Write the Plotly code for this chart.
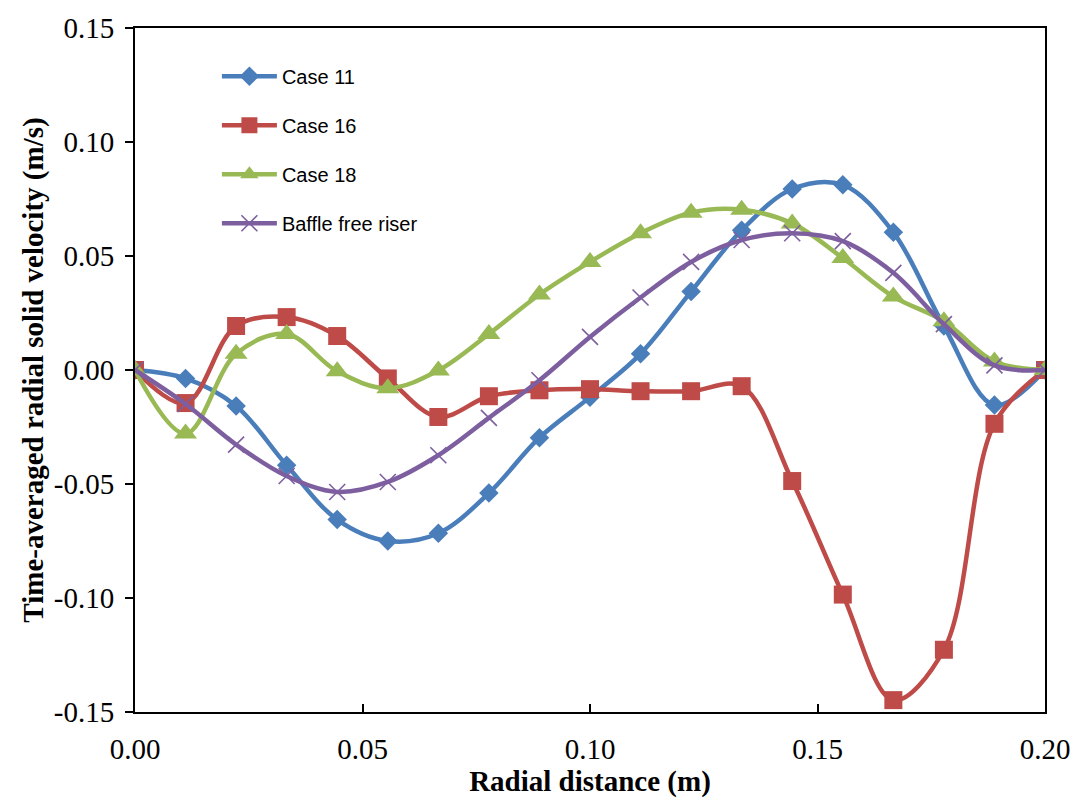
import plotly.graph_objects as go

radial_distance = [0.0, 0.01111, 0.02222, 0.03333, 0.04444, 0.05556, 0.06667, 0.07778,
                   0.08889, 0.1, 0.11111, 0.12222, 0.13333, 0.14444, 0.15556, 0.16667,
                   0.17778, 0.18889, 0.2]

case11 = [0.0, -0.0037, -0.0158, -0.0418, -0.0656, -0.075, -0.0716, -0.054, -0.0297,
          -0.0119, 0.0071, 0.0344, 0.0613, 0.0794, 0.0812, 0.0604, 0.0193, -0.0154, 0.0]
case16 = [0.0, -0.0145, 0.0193, 0.0232, 0.0149, -0.0037, -0.0206, -0.0115, -0.0089,
          -0.0084, -0.0093, -0.0093, -0.0071, -0.0487, -0.0985, -0.1448, -0.1227, -0.0236, 0.0]
case18 = [0.0, -0.0279, 0.0071, 0.0158, -0.0006, -0.008, -0.0002, 0.0158, 0.0331,
          0.0474, 0.06, 0.069, 0.0703, 0.0643, 0.0491, 0.0322, 0.0214, 0.0037, 0.0]
baffle_free = [0.0, -0.0149, -0.0327, -0.0465, -0.0535, -0.0491, -0.0374, -0.021, -0.0045,
               0.0145, 0.0318, 0.0474, 0.057, 0.06, 0.0565, 0.0426, 0.0201, 0.002, 0.0]

series_names = ["Case 11", "Case 16", "Case 18", "Baffle free riser"]

x_tick_vals = [0.0, 0.05, 0.10, 0.15, 0.20]
x_tick_text = ["0.00", "0.05", "0.10", "0.15", "0.20"]
y_tick_vals = [-0.15, -0.10, -0.05, 0.0, 0.05, 0.10, 0.15]
y_tick_text = ["-0.15", "-0.10", "-0.05", "0.00", "0.05", "0.10", "0.15"]

colors = ["#4A7EBB", "#BE4B48", "#98B954", "#7D5FA0"]
symbols = ["diamond", "square", "triangle-up", "x-thin-open"]
sizes = [15, 18, 20, 16]

fig = go.Figure()
for i, (name, ys) in enumerate(zip(series_names, [case11, case16, case18, baffle_free])):
    marker = dict(symbol=symbols[i], size=sizes[i], color=colors[i])
    if symbols[i] == "x-thin-open":
        marker["line"] = dict(color=colors[i], width=1.6)
    fig.add_trace(go.Scatter(
        x=radial_distance, y=ys, name=name, mode="lines+markers",
        line=dict(color=colors[i], width=4.5, shape="spline", smoothing=1.0),
        marker=marker, legendgroup=name,
    ))

fig.update_layout(
    width=1083, height=800,
    margin=dict(l=135, r=38, t=20, b=87),
    paper_bgcolor="white", plot_bgcolor="white",
    showlegend=True,
    legend=dict(x=0.09, y=0.958, xanchor="left", yanchor="top",
                font=dict(family="Liberation Sans", size=20, color="#000000"),
                bgcolor="rgba(0,0,0,0)", tracegroupgap=20, traceorder="grouped",
                itemwidth=55),
    xaxis=dict(range=[0, 0.2], tickvals=x_tick_vals, ticktext=x_tick_text,
               showline=True, linecolor="black", linewidth=2, mirror=True,
               ticks="inside", ticklen=8, tickwidth=1.5, tickcolor="black",
               showgrid=False, zeroline=False, ticklabelstandoff=10,
               tickfont=dict(family="Liberation Serif", size=29, color="black"),
               title=dict(text="<b>Radial distance (m)</b>", standoff=3,
                          font=dict(family="Liberation Serif", size=29, color="black"))),
    yaxis=dict(range=[-0.15, 0.15], tickvals=y_tick_vals, ticktext=y_tick_text,
               showline=True, linecolor="black", linewidth=2, mirror=True,
               ticks="outside", ticklen=8, tickwidth=1.5, tickcolor="black",
               showgrid=False, zeroline=False, ticklabelstandoff=5,
               tickfont=dict(family="Liberation Serif", size=29, color="black"),
               title=dict(text="<b>Time-averaged radial solid velocity (m/s)</b>", standoff=2,
                          font=dict(family="Liberation Serif", size=29, color="black"))),
)

fig.write_html("out.html")
